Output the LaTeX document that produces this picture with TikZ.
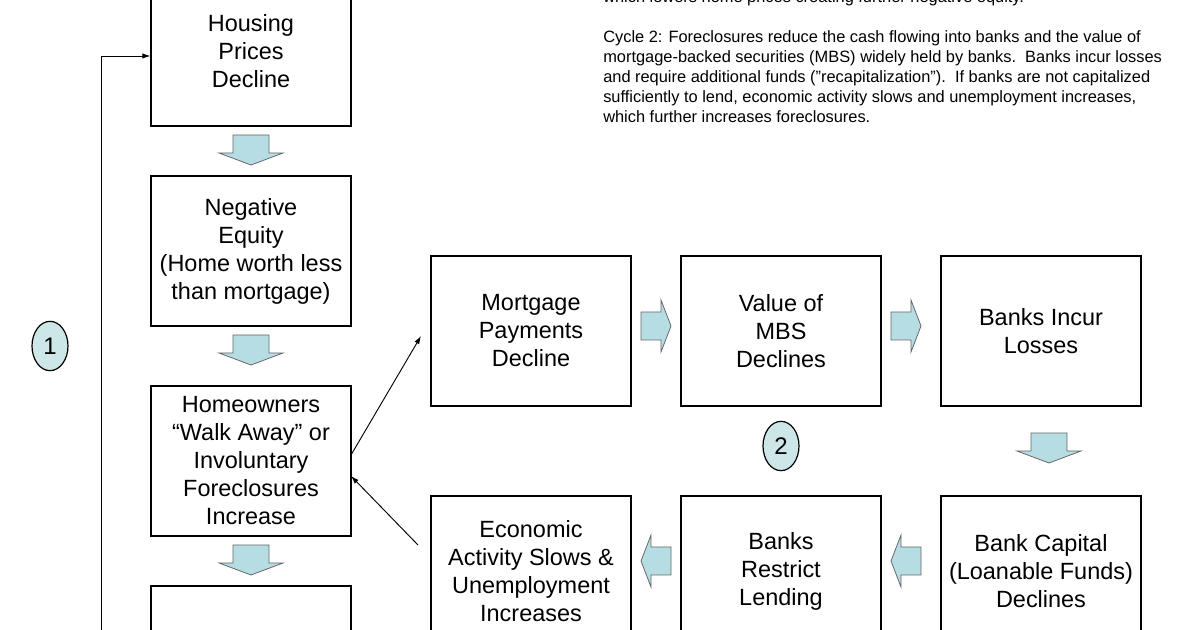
\documentclass[tikz,border=0pt]{standalone}
\usepackage{fontspec}
\setmainfont{Liberation Sans}
\usetikzlibrary{shapes.geometric,arrows.meta}
\begin{document}
\begin{tikzpicture}[x=0.75pt,y=-0.75pt,
  box/.style={draw,line width=0.9pt,minimum width=150pt,minimum height=112.5pt,inner sep=2pt,align=center,font=\fontsize{17.6}{21}\selectfont},
  circ/.style={draw,line width=0.9pt,ellipse,minimum width=27pt,minimum height=37pt,inner sep=0pt,font=\fontsize{18}{20}\selectfont},
  blk/.style={draw=black!60,fill={rgb,255:red,182;green,221;blue,228},line width=0.6pt},
  con/.style={line width=0.7pt,-{Latex[length=6pt,width=4pt]}}]
\useasboundingbox (0,0) rectangle (1200,630);
\clip (0,0) rectangle (1200,630);
\node[box] (A) at (251,51) {Housing\\Prices\\Decline};
\node[box] (B) at (251,251) {Negative\\Equity\\(Home worth less\\than mortgage)};
\node[box] (C) at (251,461) {Homeowners\\“Walk Away” or\\Involuntary\\Foreclosures\\Increase};
\node[box] (D) at (251,661) {};
\node[box] (M) at (531,331) {Mortgage\\Payments\\Decline};
\node[box] (V) at (781,331) {Value of\\MBS\\Declines};
\node[box] (L) at (1041,331) {Banks Incur\\Losses};
\node[box] (K) at (1041,571) {Bank Capital\\(Loanable Funds)\\Declines};
\node[box] (R) at (781,571) {Banks\\Restrict\\Lending};
\node[box] (E) at (531,571) {Economic\\Activity Slows \&\\Unemployment\\Increases};
\node[circ,fill={rgb,255:red,205;green,230;blue,232}] (c1) at (50,346) {1};
\node[circ,fill={rgb,255:red,205;green,230;blue,232}] (c2) at (781,446) {2};
% down block arrows
\foreach \cx/\ty in {251/135,251/335,251/545,1049/433}{
  \draw[blk] (\cx-18,\ty) -- (\cx+18,\ty) -- (\cx+18,\ty+18) -- (\cx+32,\ty+18) -- (\cx,\ty+30) -- (\cx-32,\ty+18) -- (\cx-18,\ty+18) -- cycle;}
% right block arrows
\foreach \lx/\cy in {641/326,891/326}{
  \draw[blk] (\lx,\cy-14) -- (\lx+20,\cy-14) -- (\lx+20,\cy-26) -- (\lx+30,\cy) -- (\lx+20,\cy+26) -- (\lx+20,\cy+14) -- (\lx,\cy+14) -- cycle;}
% left block arrows
\foreach \rx/\cy in {671/561,921/561}{
  \draw[blk] (\rx,\cy-14) -- (\rx-20,\cy-14) -- (\rx-20,\cy-26) -- (\rx-30,\cy) -- (\rx-20,\cy+26) -- (\rx-20,\cy+14) -- (\rx,\cy+14) -- cycle;}
% connectors
\coordinate (lb) at (101,640);
\coordinate (lt) at (101,56);
\draw[con] (lb) -- (lt) -- (A.west |- lt);
\coordinate (c1s) at (351,455);
\coordinate (m1) at (421,336);
\draw[con] (c1s) -- (m1);
\coordinate (e1) at (418,545);
\coordinate (c2e) at (351,476);
\draw[con] (e1) -- (c2e);
\node[anchor=north west,align=left,inner sep=0pt,font=\fontsize{12.3}{15}\selectfont] (t) at (603,-10)
{which lowers home prices creating further negative equity.\\[15pt]
Cycle 2: Foreclosures reduce the cash flowing into banks and the value of\\
mortgage-backed securities (MBS) widely held by banks.\ \ Banks incur losses\\
and require additional funds ("recapitalization").\ \ If banks are not capitalized\\
sufficiently to lend, economic activity slows and unemployment increases,\\
which further increases foreclosures.};
\end{tikzpicture}
\end{document}
